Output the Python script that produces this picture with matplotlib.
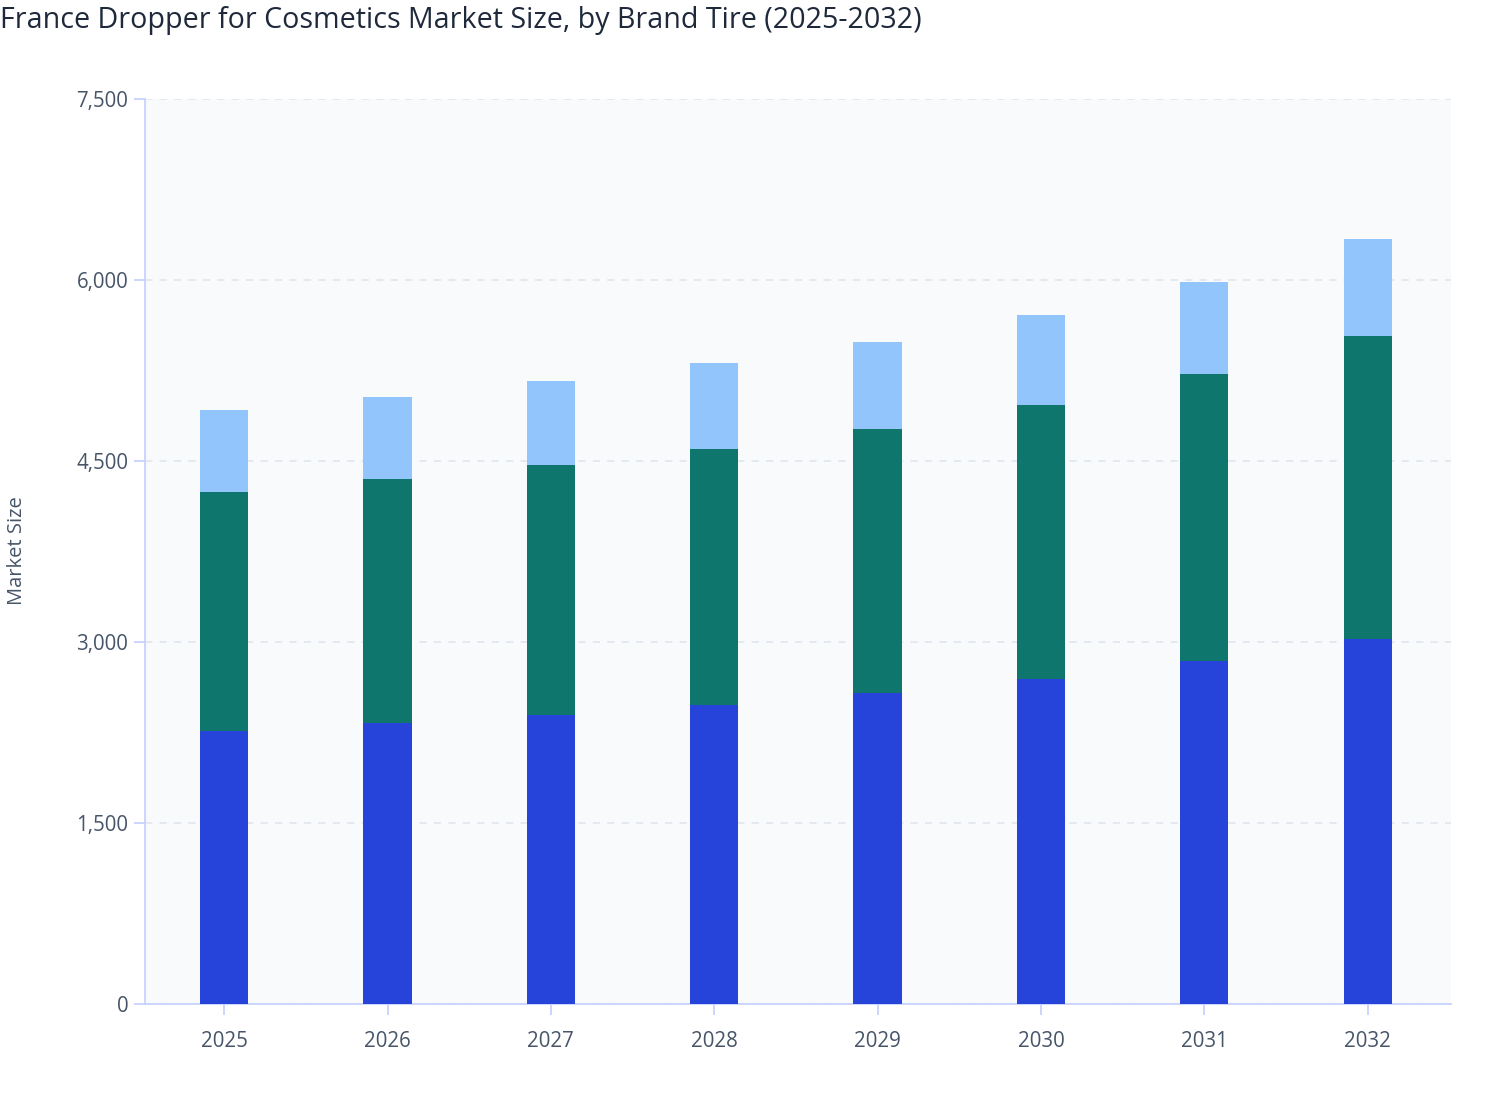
import numpy as np
import matplotlib.pyplot as plt

plt.rcParams['font.family'] = ['Open Sans', 'DejaVu Sans']

# Market size by brand tier
years = ["2025", "2026", "2027", "2028", "2029", "2030", "2031", "2032"]
tier_a = [2262, 2329, 2395, 2478, 2577, 2693, 2842, 3025]
tier_b = [1981, 2022, 2072, 2121, 2188, 2271, 2379, 2511]
tier_c = [679, 679, 696, 713, 721, 746, 762, 804]

fig = plt.figure(figsize=(15.08, 11.2), dpi=100)
ax = fig.add_axes([0.0962, 0.1036, 0.8660, 0.8080])
ax.set_facecolor("#f8fafc")

x = np.arange(len(years))
w = 0.295
b1 = np.array(tier_a)
b2 = b1 + np.array(tier_b)
ax.bar(x, tier_a, w, color="#2644d9", zorder=3)
ax.bar(x, tier_b, w, bottom=b1, color="#0f766e", zorder=3)
ax.bar(x, tier_c, w, bottom=b2, color="#93c5fd", zorder=3)

ax.set_xlim(-0.484, len(years) - 0.49)
ax.set_ylim(0, 7500)
ax.set_yticks([0, 1500, 3000, 4500, 6000, 7500])
ax.set_yticklabels(["0", "1,500", "3,000", "4,500", "6,000", "7,500"])
ax.set_xticks(x)
ax.set_xticklabels(years)
ax.grid(axis="y", color="#e2e8f0", linestyle=(0, (4, 4)), linewidth=1.3, zorder=0)

for s in ["top", "right"]:
    ax.spines[s].set_visible(False)
for s in ["left", "bottom"]:
    ax.spines[s].set_color("#c7d2fe")
    ax.spines[s].set_linewidth(1.3)
ax.tick_params(axis="y", colors="#c7d2fe", labelcolor="#475569", labelsize=14.8, length=8, width=1.3, pad=4)
ax.tick_params(axis="x", colors="#c7d2fe", labelcolor="#475569", labelsize=14.8, length=8, width=1.3, pad=11.5)

fig.text(0.011, 0.508, "Market Size", rotation=90, color="#475569", fontsize=14.5,
         ha="center", va="center")
fig.text(0.0, 0.982, "France Dropper for Cosmetics Market Size, by Brand Tire (2025-2032)",
         fontsize=20.6, color="#1e293b", ha="left", va="center", fontweight="medium")

fig.savefig("out.png", dpi=100)
